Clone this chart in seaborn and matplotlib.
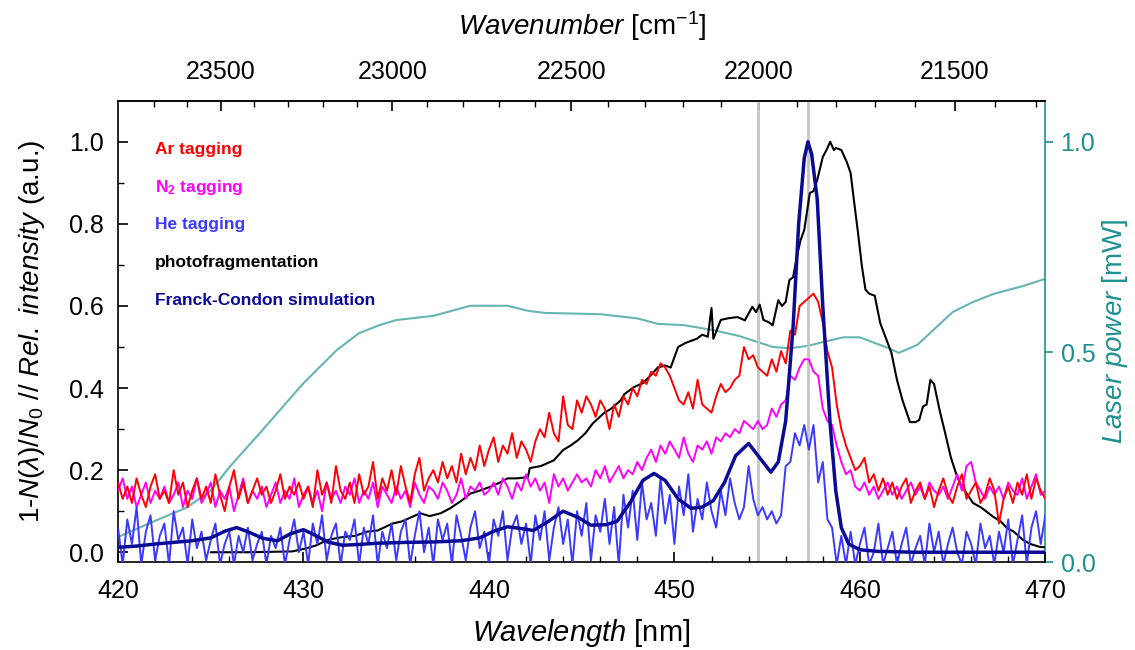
import numpy as np
import matplotlib
matplotlib.use("Agg")
import matplotlib.pyplot as plt
import seaborn as sns

# ================= DATA =================

# noisy tagging spectra, 0.25 nm grid from 420 to 470 nm (rows of 2.5 nm)
wl_grid = np.arange(420, 470.001, 0.25)

ar_tagging = [
    0.17, 0.13, 0.16, 0.12, 0.18, 0.14, 0.11, 0.16, 0.19, 0.13,
    0.15, 0.12, 0.20, 0.14, 0.17, 0.11, 0.15, 0.18, 0.13, 0.16,
    0.12, 0.19, 0.14, 0.10, 0.16, 0.20, 0.13, 0.17, 0.12, 0.15,
    0.18, 0.14, 0.16, 0.12, 0.15, 0.19, 0.13, 0.16, 0.14, 0.17,
    0.13, 0.16, 0.11, 0.20, 0.14, 0.17, 0.12, 0.21, 0.15, 0.13,
    0.17, 0.12, 0.19, 0.14, 0.16, 0.22, 0.13, 0.18, 0.15, 0.20,
    0.14, 0.21, 0.16, 0.12, 0.19, 0.23, 0.15, 0.18, 0.20, 0.17,
    0.22, 0.18, 0.21, 0.17, 0.24, 0.19, 0.23, 0.20, 0.26, 0.21,
    0.25, 0.28, 0.22, 0.26, 0.24, 0.29, 0.23, 0.27, 0.25, 0.22,
    0.27, 0.30, 0.28, 0.34, 0.29, 0.27, 0.38, 0.31, 0.30, 0.37,
    0.34, 0.38, 0.36, 0.33, 0.37, 0.35, 0.30, 0.36, 0.33, 0.38,
    0.36, 0.40, 0.38, 0.42, 0.41, 0.44, 0.43, 0.46, 0.45, 0.43,
    0.40, 0.37, 0.36, 0.39, 0.35, 0.42, 0.36, 0.35, 0.34, 0.38,
    0.41, 0.39, 0.40, 0.42, 0.43, 0.50, 0.47, 0.48, 0.45, 0.44,
    0.43, 0.47, 0.44, 0.49, 0.46, 0.54, 0.53, 0.60, 0.61, 0.62,
    0.63, 0.61, 0.56, 0.49, 0.45, 0.36, 0.30, 0.26, 0.23, 0.20,
    0.21, 0.23, 0.17, 0.19, 0.15, 0.18, 0.14, 0.17, 0.13, 0.16,
    0.18, 0.12, 0.15, 0.17, 0.13, 0.16, 0.11, 0.15, 0.18, 0.14,
    0.12, 0.16, 0.19, 0.13, 0.15, 0.17, 0.12, 0.14, 0.18, 0.15,
    0.07, 0.13, 0.16, 0.12, 0.17, 0.14, 0.19, 0.13, 0.18, 0.15,
    0.13,
]

n2_tagging = [
    0.15, 0.18, 0.13, 0.16, 0.11, 0.14, 0.17, 0.12, 0.15, 0.13,
    0.16, 0.12, 0.14, 0.17, 0.11, 0.15, 0.13, 0.18, 0.12, 0.14,
    0.17, 0.11, 0.15, 0.13, 0.16, 0.10, 0.14, 0.18, 0.12, 0.15,
    0.13, 0.16, 0.11, 0.14, 0.17, 0.12, 0.15, 0.13, 0.18, 0.11,
    0.14, 0.16, 0.12, 0.15, 0.10, 0.17, 0.13, 0.15, 0.12, 0.16,
    0.14, 0.18, 0.12, 0.15, 0.13, 0.17, 0.11, 0.16, 0.14, 0.12,
    0.16, 0.13, 0.15, 0.11, 0.17, 0.14, 0.12, 0.16, 0.15, 0.13,
    0.17, 0.15, 0.12, 0.14, 0.18, 0.13, 0.16, 0.15, 0.17, 0.14,
    0.15, 0.17, 0.14, 0.18, 0.16, 0.13, 0.17, 0.15, 0.19, 0.16,
    0.18, 0.15, 0.17, 0.12, 0.19, 0.16, 0.18, 0.15, 0.17, 0.19,
    0.17, 0.18, 0.16, 0.20, 0.18, 0.21, 0.17, 0.19, 0.21, 0.18,
    0.20, 0.19, 0.22, 0.20, 0.23, 0.25, 0.22, 0.26, 0.24, 0.27,
    0.25, 0.23, 0.28, 0.24, 0.22, 0.26, 0.25, 0.27, 0.24, 0.28,
    0.27, 0.29, 0.28, 0.30, 0.29, 0.32, 0.31, 0.30, 0.32, 0.30,
    0.31, 0.35, 0.33, 0.36, 0.37, 0.43, 0.42, 0.45, 0.47, 0.47,
    0.44, 0.43, 0.35, 0.32, 0.31, 0.26, 0.22, 0.19, 0.20, 0.16,
    0.15, 0.17, 0.14, 0.16, 0.13, 0.15, 0.17, 0.14, 0.16, 0.13,
    0.15, 0.17, 0.14, 0.16, 0.13, 0.17, 0.15, 0.14, 0.16, 0.13,
    0.16, 0.19, 0.15, 0.21, 0.22, 0.17, 0.15, 0.13, 0.16, 0.14,
    0.16, 0.13, 0.17, 0.15, 0.14, 0.18, 0.13, 0.16, 0.19, 0.14,
    0.15,
]

he_tagging = [
    0.06, -0.03, 0.08, 0.02, 0.11, -0.03, 0.05, 0.09, -0.02, 0.04,
    0.07, -0.03, 0.10, 0.03, 0.06, -0.03, 0.08, 0.01, 0.05, -0.02,
    0.03, 0.07, -0.03, 0.02, 0.05, -0.03, 0.04, 0.00, 0.06, -0.02,
    0.02, 0.05, -0.03, 0.04, 0.01, 0.06, -0.03, 0.03, 0.08, 0.00,
    0.05, -0.03, 0.07, 0.02, 0.09, -0.02, 0.04, 0.07, -0.03, 0.05,
    0.03, 0.08, -0.03, 0.06, 0.02, 0.09, -0.03, 0.05, 0.01, 0.07,
    -0.02, 0.05, 0.08, -0.03, 0.04, 0.10, 0.00, 0.06, -0.03, 0.08,
    0.03, 0.07, -0.03, 0.09, 0.04, -0.02, 0.06, 0.10, 0.01, 0.05,
    -0.03, 0.08, 0.04, 0.10, -0.02, 0.06, 0.09, 0.02, 0.07, -0.03,
    0.09, 0.03, 0.10, -0.02, 0.06, 0.11, 0.02, 0.08, -0.03, 0.10,
    0.04, 0.12, -0.02, 0.09, 0.05, 0.13, 0.02, 0.11, -0.03, 0.14,
    0.06, 0.15, 0.03, 0.17, 0.08, 0.12, 0.04, 0.18, 0.07, 0.14,
    0.02, 0.16, 0.09, 0.19, 0.05, 0.13, 0.08, 0.17, 0.10, 0.06,
    0.15, 0.09, 0.18, 0.12, 0.08, 0.11, 0.21, 0.13, 0.09, 0.11,
    0.08, 0.10, 0.07, 0.09, 0.21, 0.22, 0.29, 0.26, 0.31, 0.25,
    0.31, 0.17, 0.22, 0.08, 0.06, -0.03, 0.04, -0.03, 0.05, -0.03,
    0.02, 0.06, -0.03, 0.00, 0.07, -0.03, 0.01, 0.05, -0.03, 0.02,
    0.06, -0.03, 0.01, 0.04, -0.03, 0.07, 0.00, 0.05, -0.03, 0.02,
    0.06, 0.00, -0.03, 0.05, 0.02, -0.03, 0.07, 0.01, 0.04, -0.03,
    0.05, 0.00, 0.08, -0.03, 0.03, 0.09, -0.03, 0.06, 0.10, 0.02,
    0.09,
]

# photofragmentation spectrum
photo_wl = [
    425.0, 427.0, 429.4, 430.2, 430.7, 431.3, 432.1, 432.8, 433.4, 434.0,
    434.8, 435.3, 435.7, 436.3, 436.8, 437.4, 437.9, 438.5, 439.0, 439.5,
    440.1, 440.6, 441.0, 441.5, 442.1, 442.2, 442.8, 443.5, 444.0, 444.4,
    444.8, 445.2, 445.6, 446.2, 446.6, 447.1, 447.3, 447.8, 448.3, 448.7,
    449.1, 449.5, 449.8, 450.2, 450.6, 451.2, 451.5, 451.8, 452.0, 452.1,
    452.5, 452.9, 453.4, 453.8, 454.2, 454.4, 454.6, 454.8, 455.1, 455.3,
    455.6, 455.8, 456.0, 456.2, 456.4, 456.6, 456.8, 457.0, 457.3, 457.5,
    457.7, 458.0, 458.2, 458.4, 458.6, 458.7, 459.0, 459.3, 459.5, 459.7,
    459.9, 460.1, 460.3, 460.5, 460.8, 461.1, 461.5, 461.7, 462.0, 462.3,
    462.7, 463.0, 463.2, 463.4, 463.6, 463.8, 464.0, 464.3, 464.6, 464.9,
    465.2, 465.4, 465.8, 466.1, 466.5, 466.8, 467.2, 467.6, 467.9, 468.3,
    468.8, 469.2, 469.7, 470.0,
]
photo_val = [
    0.0, 0.0, 0.002, 0.01, 0.017, 0.03, 0.037, 0.04, 0.05, 0.053,
    0.07, 0.075, 0.083, 0.095, 0.088, 0.095, 0.107, 0.125, 0.143, 0.15,
    0.16, 0.17, 0.18, 0.18, 0.183, 0.205, 0.21, 0.224, 0.249, 0.26,
    0.273, 0.29, 0.314, 0.339, 0.35, 0.37, 0.385, 0.402, 0.412, 0.43,
    0.45, 0.455, 0.45, 0.5, 0.51, 0.52, 0.53, 0.525, 0.595, 0.52,
    0.566, 0.57, 0.573, 0.565, 0.598, 0.585, 0.603, 0.566, 0.56, 0.553,
    0.614, 0.6, 0.61, 0.663, 0.67, 0.72, 0.76, 0.785, 0.875, 0.88,
    0.907, 0.963, 0.98, 1.0, 0.98, 0.985, 0.98, 0.95, 0.924, 0.85,
    0.778, 0.7, 0.64, 0.63, 0.625, 0.558, 0.51, 0.486, 0.42, 0.37,
    0.317, 0.317, 0.322, 0.355, 0.36, 0.42, 0.41, 0.346, 0.29, 0.232,
    0.19, 0.168, 0.14, 0.12, 0.11, 0.1, 0.086, 0.075, 0.06, 0.05,
    0.03, 0.02, 0.013, 0.012,
]

# Franck-Condon simulation
fc_wl = [
    420.0, 421.0, 422.0, 423.0, 424.0, 425.0, 425.8, 426.4, 427.0, 427.8,
    428.6, 429.3, 430.0, 430.6, 431.3, 432.1, 433.0, 434.0, 435.5, 437.0,
    438.5, 439.5, 440.3, 441.0, 441.7, 442.4, 443.2, 444.0, 444.8, 445.5,
    446.3, 446.9, 447.6, 448.3, 448.9, 449.5, 450.2, 450.9, 451.5, 452.1,
    452.7, 453.3, 454.0, 454.6, 455.2, 455.6, 456.0, 456.4, 456.7, 457.0,
    457.2, 457.4, 457.7, 458.0, 458.4, 458.7, 459.0, 459.4, 460.0, 461.0,
    463.0, 466.0, 470.0,
]
fc_val = [
    0.012, 0.015, 0.02, 0.024, 0.028, 0.035, 0.052, 0.06, 0.05, 0.034,
    0.028, 0.045, 0.055, 0.042, 0.025, 0.017, 0.019, 0.022, 0.024, 0.025,
    0.028, 0.035, 0.052, 0.062, 0.058, 0.053, 0.075, 0.1, 0.085, 0.066,
    0.067, 0.075, 0.12, 0.175, 0.192, 0.175, 0.13, 0.107, 0.11, 0.126,
    0.17, 0.235, 0.265, 0.23, 0.195, 0.22, 0.32, 0.55, 0.8, 0.96,
    1.0, 0.97, 0.86, 0.6, 0.31, 0.15, 0.06, 0.02, 0.006, 0.002,
    0.0, 0.0, 0.0,
]

# laser power (right axis, mW)
laser_wl = [
    420.0, 421.7, 423.7, 425.0, 426.0, 427.7, 430.0, 431.8, 433.0, 434.1,
    435.0, 437.0, 439.0, 441.0, 442.1, 443.0, 446.0, 448.0, 449.1, 450.5,
    452.1, 453.5, 455.3, 456.2, 457.1, 459.1, 460.0, 461.5, 462.1, 463.1,
    465.0, 466.1, 467.2, 468.8, 470.0,
]
laser_mw = [
    0.06, 0.093, 0.13, 0.17, 0.226, 0.31, 0.426, 0.505, 0.545, 0.564,
    0.576, 0.586, 0.61, 0.61, 0.598, 0.593, 0.59, 0.58, 0.567, 0.564,
    0.552, 0.538, 0.512, 0.509, 0.514, 0.535, 0.535, 0.51, 0.498, 0.517,
    0.595, 0.619, 0.638, 0.657, 0.674,
]

marker_lines = [454.5, 457.2]
wavenumber_ticks = [23500, 23000, 22500, 22000, 21500]

legend_labels = ["Ar tagging", r"N$_\mathbf{2}$ tagging", "He tagging",
                 "photofragmentation", "Franck-Condon simulation"]
legend_colors = ["#ff0000", "#ff00ff", "#3a3aff", "#000000", "#0a0a96"]

# ================= STYLE =================

sns.set_style("ticks")
plt.rcParams["font.family"] = ["Liberation Sans", "DejaVu Sans"]
plt.rcParams["mathtext.fontset"] = "custom"
plt.rcParams["mathtext.rm"] = "Liberation Sans"
plt.rcParams["mathtext.it"] = "Liberation Sans:italic"
plt.rcParams["mathtext.bf"] = "Liberation Sans:bold"
plt.rcParams["text.color"] = "black"
plt.rcParams["axes.labelcolor"] = "black"
plt.rcParams["xtick.color"] = "black"
plt.rcParams["ytick.color"] = "black"

teal = "#1f9090"

fig = plt.figure(figsize=(11.35, 6.5), dpi=100)
ax = fig.add_axes([0.104, 0.135, 0.817, 0.710])

for xv in marker_lines:
    ax.axvline(xv, color="#c4c4c4", lw=2, zorder=1)

ax2 = ax.twinx()
sns.lineplot(x=laser_wl, y=laser_mw, ax=ax2, color="#66b5b3", lw=1.5,
             sort=False, estimator=None)

sns.lineplot(x=photo_wl, y=photo_val, ax=ax, color="black", lw=1.5,
             sort=False, estimator=None, zorder=3)
sns.lineplot(x=wl_grid, y=ar_tagging, ax=ax, color=legend_colors[0], lw=1.4,
             sort=False, estimator=None, zorder=4)
sns.lineplot(x=wl_grid, y=n2_tagging, ax=ax, color=legend_colors[1], lw=1.4,
             sort=False, estimator=None, zorder=3)
sns.lineplot(x=wl_grid, y=he_tagging, ax=ax, color=legend_colors[2], lw=1.4,
             sort=False, estimator=None, zorder=3)
sns.lineplot(x=fc_wl, y=fc_val, ax=ax, color=legend_colors[4], lw=2.5,
             sort=False, estimator=None, zorder=5)

# keep main axes above the twin so lines sit on top
ax.set_zorder(ax2.get_zorder() + 1)
ax.patch.set_visible(False)

# ================= AXES =================

ax.set_xlim(420, 470)
ax.set_ylim(-0.0244, 1.1)
ax2.set_ylim(0, 1.0976)

ax.set_xticks(np.arange(420, 471, 10))
ax.set_xticks(np.arange(420, 471, 2), minor=True)
ax.set_yticks(np.arange(0, 1.01, 0.2))
ax.set_yticks(np.arange(0, 1.01, 0.1), minor=True)
ax.set_yticklabels([f"{v:.1f}" for v in np.arange(0, 1.01, 0.2)])

ax.tick_params(axis="both", which="both", direction="in", labelsize=18,
               top=False, right=False, colors="black")
ax.tick_params(which="major", length=7, width=1.2)
ax.tick_params(which="minor", length=4, width=1.0)
ax.tick_params(axis="x", which="both", pad=12)
ax.tick_params(axis="y", which="both", pad=10)

ax2.set_yticks([0.0, 0.5, 1.0])
ax2.set_yticklabels(["0.0", "0.5", "1.0"])
ax2.tick_params(axis="y", direction="out", length=6, width=1.2,
                colors=teal, labelsize=18, pad=5)
ax2.spines["right"].set_color(teal)
ax2.spines["right"].set_linewidth(1.2)

for side in ["left", "bottom", "top"]:
    ax.spines[side].set_linewidth(1.2)
    ax.spines[side].set_color("black")
    ax2.spines[side].set_visible(False)
ax.spines["right"].set_visible(False)

ax.set_xlabel(r"$\mathit{Wavelength}$ [nm]", fontsize=21, labelpad=10)
ax.set_ylabel(r"1-$\mathit{N}$($\mathit{\lambda}$)/$\mathit{N}_\mathit{0}$ // "
              r"$\mathit{Rel.\ intensity}$ (a.u.)", fontsize=20, labelpad=16)
ax2.set_ylabel(r"$\mathit{Laser\ power}$ [mW]", fontsize=20, color=teal,
               labelpad=3)

# top wavenumber axis
top = ax.secondary_xaxis("top", functions=(lambda x: 1e7 / x,
                                           lambda x: 1e7 / x))
top.set_xticks(wavenumber_ticks)
top.set_xticks(np.arange(21300, 23800, 100), minor=True)
top.tick_params(which="both", direction="in", labelsize=18, pad=12,
                colors="black")
top.tick_params(which="major", length=7, width=1.2)
top.tick_params(which="minor", length=4, width=1.0)
top.spines["top"].set_linewidth(1.2)
top.set_xlabel(r"$\mathit{Wavenumber}$ [cm$^{-1}$]", fontsize=20, labelpad=18)

# ================= LEGEND TEXT =================

legend_y = [0.894, 0.813, 0.731, 0.649, 0.568]
for label, color, yy in zip(legend_labels, legend_colors, legend_y):
    ax.text(0.04, yy, label, color=color, fontsize=12.5, fontweight="bold",
            transform=ax.transAxes, va="center", ha="left")

fig.savefig("out.png", dpi=100)
